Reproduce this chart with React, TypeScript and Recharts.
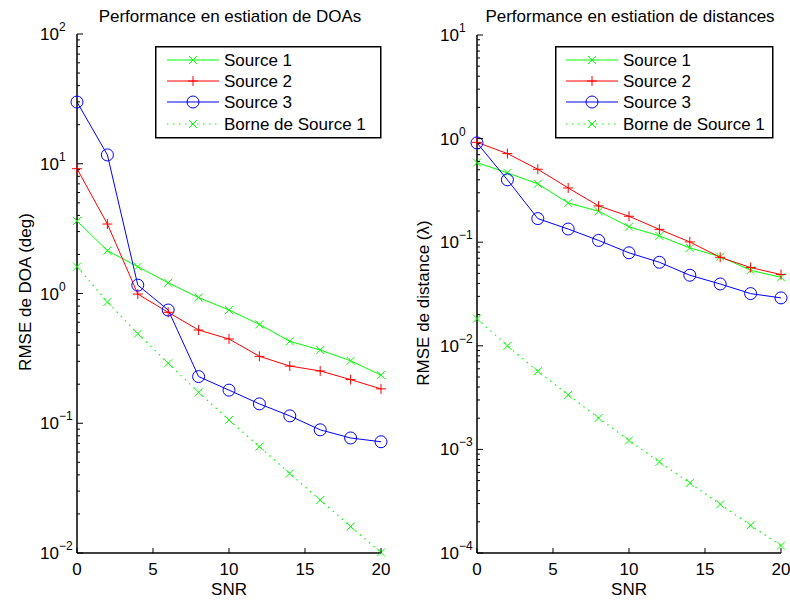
import React from "react";
import { LineChart, Line, XAxis, YAxis } from "recharts";

const snr = [0, 2, 4, 6, 8, 10, 12, 14, 16, 18, 20];
const seriesNames = ["Source 1", "Source 2", "Source 3", "Borne de Source 1"];

const doaSource1 = [3.62, 2.14, 1.61, 1.21, 0.93, 0.746, 0.578, 0.428, 0.367, 0.303, 0.235];
const doaSource2 = [9.16, 3.43, 0.99, 0.716, 0.523, 0.446, 0.328, 0.276, 0.253, 0.217, 0.184];
const doaSource3 = [29.9, 11.7, 1.16, 0.746, 0.229, 0.18, 0.141, 0.114, 0.089, 0.077, 0.072];
const doaBound = [1.61, 0.86, 0.49, 0.29, 0.173, 0.106, 0.066, 0.041, 0.0256, 0.016, 0.0101];

const distSource1 = [0.587, 0.467, 0.366, 0.239, 0.199, 0.141, 0.115, 0.088, 0.0726, 0.0536, 0.0458];
const distSource2 = [0.92, 0.717, 0.506, 0.334, 0.224, 0.178, 0.133, 0.1006, 0.0715, 0.0569, 0.0487];
const distSource3 = [0.909, 0.4, 0.169, 0.134, 0.104, 0.079, 0.064, 0.048, 0.0395, 0.0319, 0.029];
const distBound = [0.0183, 0.01, 0.00568, 0.00336, 0.00201, 0.00122, 0.000757, 0.000474, 0.000295, 0.000185, 0.000118];

const xTicks = [0, 5, 10, 15, 20];
const doaDecades = [-2, -1, 0, 1, 2];
const distDecades = [-4, -3, -2, -1, 0, 1];

const FONT = "'Liberation Sans', Arial, Helvetica, sans-serif";
const GREEN = "#00ff00";
const RED = "#ff0000";
const BLUE = "#0000ff";

function buildTicks(decades: number[]) {
  const out: number[] = [];
  for (let i = 0; i < decades.length; i++) {
    const base = Math.pow(10, decades[i]);
    out.push(base);
    if (i < decades.length - 1) {
      for (let k = 2; k <= 9; k++) out.push(base * k);
    }
  }
  return out;
}

function buildData(a: number[], b: number[], c: number[], d: number[]) {
  return snr.map((s, i) => ({ snr: s, s1: a[i], s2: b[i], s3: c[i], b: d[i] }));
}

const doaData = buildData(doaSource1, doaSource2, doaSource3, doaBound);
const distData = buildData(distSource1, distSource2, distSource3, distBound);

function isMajor(v: number) {
  const l = Math.log10(v);
  return Math.abs(l - Math.round(l)) < 1e-6;
}

function Marker({ kind, cx, cy, color }: any) {
  if (cx == null || cy == null) return null;
  if (kind === "o") {
    return <circle cx={cx} cy={cy} r={6} fill="none" stroke={color} strokeWidth={1} />;
  }
  if (kind === "+") {
    return (
      <path d={`M${cx - 5},${cy}L${cx + 5},${cy}M${cx},${cy - 5}L${cx},${cy + 5}`} stroke={color} strokeWidth={1} fill="none" />
    );
  }
  return (
    <path d={`M${cx - 4},${cy - 4}L${cx + 4},${cy + 4}M${cx - 4},${cy + 4}L${cx + 4},${cy - 4}`} stroke={color} strokeWidth={1} fill="none" />
  );
}

function LeftTick(props: any) {
  const { x, y, payload } = props;
  const v = payload.value;
  const major = isMajor(v);
  const len = major ? 6 : 3;
  const e = Math.round(Math.log10(v));
  return (
    <g>
      <line x1={x} y1={y} x2={x + len} y2={y} stroke="#000" strokeWidth={1} />
      {major && (
        <text x={x - 37} y={y + 6} fontSize={17} fontFamily={FONT} fill="#000" textAnchor="start">
          10
          <tspan fontSize={12} dy={-9}>{e < 0 ? "\u2212" + Math.abs(e) : String(e)}</tspan>
        </text>
      )}
    </g>
  );
}

function RightTick(props: any) {
  const { x, y, payload } = props;
  const major = isMajor(payload.value);
  const len = major ? 6 : 3;
  return <line x1={x} y1={y} x2={x - len} y2={y} stroke="#000" strokeWidth={1} />;
}

function BottomTick(props: any) {
  const { x, y, payload } = props;
  return (
    <g>
      <line x1={x} y1={y} x2={x} y2={y - 5} stroke="#000" strokeWidth={1} />
      <text x={x} y={y + 22} fontSize={17} fontFamily={FONT} fill="#000" textAnchor="middle">
        {payload.value}
      </text>
    </g>
  );
}

function TopTick(props: any) {
  const { x, y } = props;
  return <line x1={x} y1={y} x2={x} y2={y + 5} stroke="#000" strokeWidth={1} />;
}

const axisLine = { stroke: "#000", strokeWidth: 1.5 };

function Panel({ data, decades, margin }: any) {
  const ticks = buildTicks(decades);
  const domain = [Math.pow(10, decades[0]), Math.pow(10, decades[decades.length - 1])];
  return (
    <LineChart width={395} height={601} data={data} margin={margin}>
      <XAxis xAxisId="b" dataKey="snr" type="number" domain={[0, 20]} ticks={xTicks} interval={0}
        tickLine={false} tickSize={0} tickMargin={0} height={30} axisLine={axisLine}
        tick={(p: any) => <BottomTick {...p} />} />
      <XAxis xAxisId="t" orientation="top" dataKey="snr" type="number" domain={[0, 20]} ticks={xTicks} interval={0}
        allowDataOverflow tickLine={false} tickSize={0} tickMargin={0} height={0} axisLine={axisLine}
        tick={(p: any) => <TopTick {...p} />} />
      <YAxis yAxisId="l" type="number" scale="log" domain={domain} ticks={ticks} interval={0}
        tickLine={false} tickSize={0} tickMargin={0} width={60} axisLine={axisLine}
        tick={(p: any) => <LeftTick {...p} />} />
      <YAxis yAxisId="r" orientation="right" type="number" scale="log" domain={domain} allowDataOverflow ticks={ticks}
        interval={0} tickLine={false} tickSize={0} tickMargin={0} width={0} axisLine={axisLine}
        tick={(p: any) => <RightTick {...p} />} />
      <Line xAxisId="b" yAxisId="l" dataKey="b" stroke={GREEN} strokeWidth={1.2} strokeDasharray="1.5 4.5"
        isAnimationActive={false} dot={(p: any) => <Marker key={`b${p.index}`} kind="x" cx={p.cx} cy={p.cy} color={GREEN} />} />
      <Line xAxisId="b" yAxisId="l" dataKey="s1" stroke={GREEN} strokeWidth={1}
        isAnimationActive={false} dot={(p: any) => <Marker key={`a${p.index}`} kind="x" cx={p.cx} cy={p.cy} color={GREEN} />} />
      <Line xAxisId="b" yAxisId="l" dataKey="s2" stroke={RED} strokeWidth={1}
        isAnimationActive={false} dot={(p: any) => <Marker key={`r${p.index}`} kind="+" cx={p.cx} cy={p.cy} color={RED} />} />
      <Line xAxisId="b" yAxisId="l" dataKey="s3" stroke={BLUE} strokeWidth={1}
        isAnimationActive={false} dot={(p: any) => <Marker key={`c${p.index}`} kind="o" cx={p.cx} cy={p.cy} color={BLUE} />} />
    </LineChart>
  );
}

const legendStyles = [
  { color: GREEN, kind: "x", dash: undefined },
  { color: RED, kind: "+", dash: undefined },
  { color: BLUE, kind: "o", dash: undefined },
  { color: GREEN, kind: "x", dash: "1.5 4.5" },
];

function LegendBox({ left, top, width, x0, x1, tx }: any) {
  const h = 91;
  const rows = [14, 35, 56, 78];
  return (
    <svg style={{ position: "absolute", left, top }} width={width + 2} height={h + 2}>
      <rect x={0.75} y={0.75} width={width} height={h} fill="#fff" stroke="#000" strokeWidth={1.5} />
      {seriesNames.map((name, i) => {
        const s = legendStyles[i];
        const cy = rows[i];
        return (
          <g key={name}>
            <line x1={x0} y1={cy} x2={x1} y2={cy} stroke={s.color} strokeWidth={1} strokeDasharray={s.dash} />
            <Marker kind={s.kind} cx={(x0 + x1) / 2} cy={cy} color={s.color} />
            <text x={tx} y={cy + 6} fontSize={17} fontFamily={FONT} fill="#000">{name}</text>
          </g>
        );
      })}
    </svg>
  );
}

const textBase: React.CSSProperties = {
  position: "absolute",
  fontFamily: FONT,
  fontSize: 17,
  lineHeight: 1,
  whiteSpace: "nowrap",
  color: "#000",
};

export default function App() {
  return (
    <div style={{ position: "absolute", left: 0, top: 0, width: 790, height: 601, background: "#fff", overflow: "hidden" }}>
      <div style={{ position: "absolute", left: 0, top: 0 }}>
        <Panel data={doaData} decades={doaDecades} margin={{ top: 34, right: 14, bottom: 18, left: 17 }} />
      </div>
      <div style={{ position: "absolute", left: 395, top: 0 }}>
        <Panel data={distData} decades={distDecades} margin={{ top: 35, right: 9, bottom: 18, left: 22 }} />
      </div>
      <div style={{ ...textBase, left: 230, top: 16, transform: "translate(-50%, -50%)" }}>
        Performance en estiation de DOAs
      </div>
      <div style={{ ...textBase, left: 630, top: 16, transform: "translate(-50%, -50%)" }}>
        Performance en estiation de distances
      </div>
      <div style={{ ...textBase, left: 229, top: 589, transform: "translate(-50%, -50%)" }}>SNR</div>
      <div style={{ ...textBase, left: 629, top: 589, transform: "translate(-50%, -50%)" }}>SNR</div>
      <div style={{ ...textBase, left: 25, top: 292, transform: "translate(-50%, -50%) rotate(-90deg)" }}>
        RMSE de DOA (deg)
      </div>
      <div style={{ ...textBase, left: 423, top: 303, transform: "translate(-50%, -50%) rotate(-90deg)" }}>
        RMSE de distance (λ)
      </div>
      <LegendBox left={155} top={46} width={225} x0={12} x1={64} tx={69} />
      <LegendBox left={555} top={46} width={217} x0={11} x1={63} tx={68} />
    </div>
  );
}
